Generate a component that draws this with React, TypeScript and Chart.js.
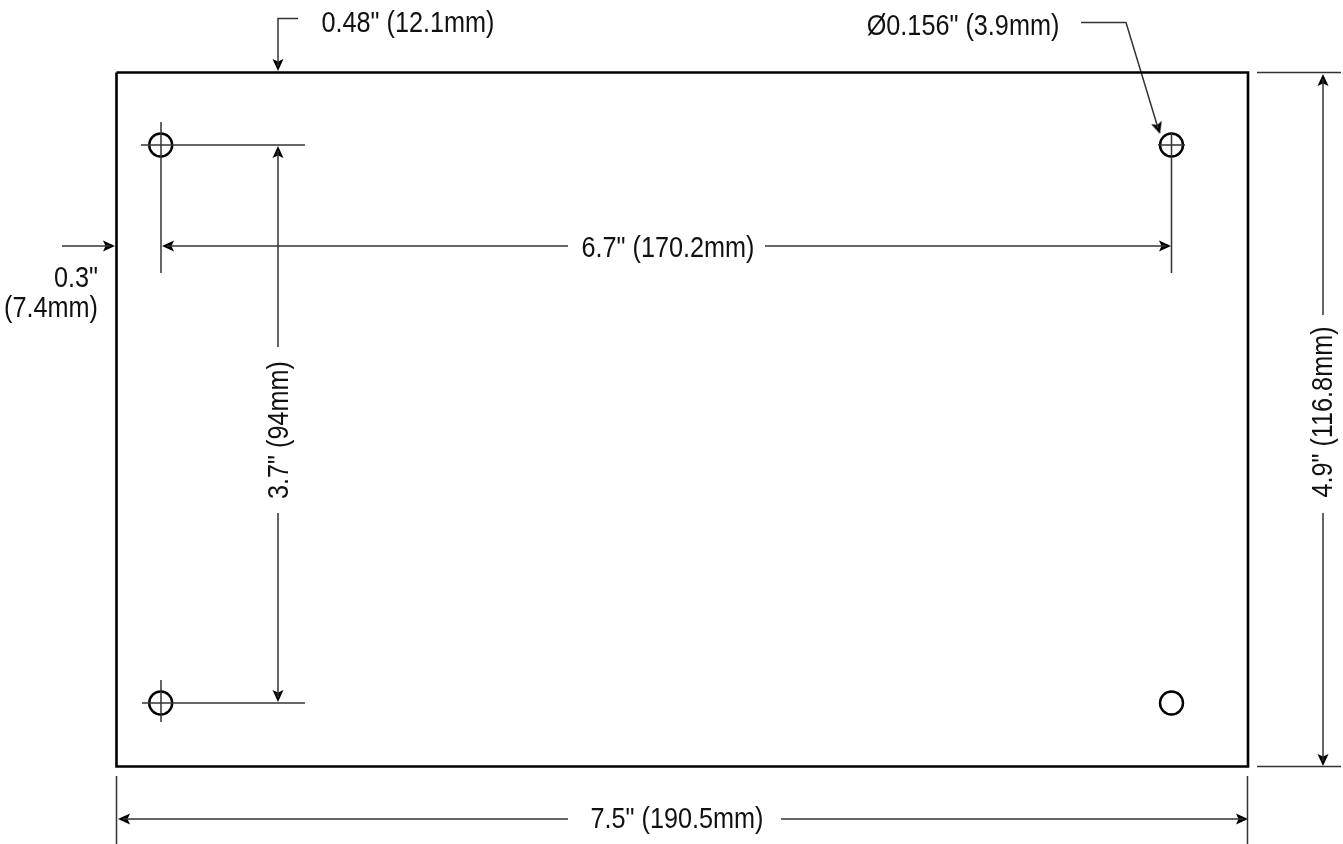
import { useEffect, useRef } from "react";
import { Chart, registerables } from "chart.js";

Chart.register(...registerables);

type P = [number, number];

const sheetWidth = 1343;
const sheetHeight = 844;

const boardOutline: P[] = [[116.5, 72.5], [1248, 72.5], [1248, 766.5], [116.5, 766.5], [116.5, 72.5]];
const holeCenters: P[] = [[160.7, 145], [1171.5, 145], [160.7, 703], [1171.5, 703]];

const leaderLines: P[][] = [
  [[298, 18.5], [278, 18.5], [278, 66]],
  [[1081, 22.5], [1126, 22.5], [1158, 128]],
  [[62, 246], [110, 246]],
];
const extensionLines: P[][] = [
  [[161, 122], [161, 273]],
  [[141, 145], [305, 145]],
  [[1171.5, 132], [1171.5, 273]],
  [[1158, 145], [1185, 145]],
  [[161, 680], [161, 722]],
  [[142, 703], [305, 703]],
  [[1257, 72.5], [1341, 72.5]],
  [[1257, 766.5], [1341, 766.5]],
  [[116.5, 776], [116.5, 844]],
  [[1247.5, 776], [1247.5, 844]],
];
const dimensionLines: P[][] = [
  [[167, 246], [568, 246]],
  [[765, 246], [1166, 246]],
  [[278, 151], [278, 347]],
  [[278, 513], [278, 697]],
  [[1323, 79], [1323, 315]],
  [[1323, 513], [1323, 761]],
  [[123, 819], [568, 819]],
  [[781, 819], [1243, 819]],
];

const arrowTips: P[] = [
  [278, 71], [1160, 134], [115, 246], [162, 246], [1171, 246],
  [278, 146], [278, 702], [1323, 74], [1323, 766], [118, 819], [1248, 819],
];
const arrowAngles: number[] = [90, 73, 0, 180, 0, -90, 90, -90, 90, 180, 0];

const labelTexts: string[] = [
  '0.48" (12.1mm)', 'Ø0.156" (3.9mm)', '0.3"', "(7.4mm)",
  '6.7" (170.2mm)', '3.7" (94mm)', '4.9" (116.8mm)', '7.5" (190.5mm)',
];
const labelAnchors: P[] = [
  [408, 32], [963, 35], [98, 287], [98, 317],
  [668, 257], [288, 430], [1332, 412], [677, 828],
];
const labelAligns: CanvasTextAlign[] = ["center", "center", "right", "right", "center", "center", "center", "center"];
const labelAngles: number[] = [0, 0, 0, 0, 0, -90, -90, 0];

const asPoints = (pts: P[]) => pts.map(([x, y]) => ({ x, y }));

function makeArrowHead(): HTMLCanvasElement {
  const c = document.createElement("canvas");
  c.width = 32;
  c.height = 32;
  const g = c.getContext("2d")!;
  g.fillStyle = "#000";
  g.beginPath();
  g.moveTo(16, 16);
  g.lineTo(4, 10.5);
  g.lineTo(6.5, 16);
  g.lineTo(4, 21.5);
  g.closePath();
  g.fill();
  return c;
}

const labelPlugin = {
  id: "dimensionLabels",
  afterDatasetsDraw(chart: any) {
    const { ctx, scales } = chart;
    ctx.save();
    ctx.fillStyle = "#111";
    ctx.font = '29px "Liberation Sans", sans-serif';
    ctx.textBaseline = "alphabetic";
    labelTexts.forEach((t, i) => {
      const [x, y] = labelAnchors[i];
      ctx.save();
      ctx.translate(scales.x.getPixelForValue(x), scales.y.getPixelForValue(y));
      ctx.rotate((labelAngles[i] * Math.PI) / 180);
      ctx.scale(0.87, 1);
      ctx.textAlign = labelAligns[i];
      ctx.fillText(t, 0, 0);
      ctx.restore();
    });
    ctx.restore();
  },
};

export default function App() {
  const ref = useRef<HTMLCanvasElement>(null);
  useEffect(() => {
    const line = (pts: P[], borderWidth: number, borderColor: string) => ({
      data: asPoints(pts),
      showLine: true,
      borderColor,
      borderWidth,
      pointRadius: 0,
      tension: 0,
      borderJoinStyle: "miter" as const,
    });
    const chart = new Chart(ref.current!, {
      type: "scatter",
      data: {
        datasets: [
          line(boardOutline, 2.6, "#000"),
          ...extensionLines.map((l) => line(l, 1.5, "#333")),
          ...dimensionLines.map((l) => line(l, 1.5, "#333")),
          ...leaderLines.map((l) => line(l, 1.5, "#333")),
          {
            data: asPoints(holeCenters),
            showLine: false,
            pointStyle: "circle",
            pointRadius: 11.5,
            pointBorderWidth: 2.4,
            pointBorderColor: "#000",
            pointBackgroundColor: "transparent",
          },
          {
            data: asPoints(arrowTips),
            showLine: false,
            pointStyle: makeArrowHead(),
            pointRotation: arrowAngles,
            pointRadius: 16,
          },
        ] as any,
      },
      options: {
        animation: false,
        responsive: false,
        layout: { padding: 0, autoPadding: false },
        events: [],
        plugins: { legend: { display: false }, tooltip: { enabled: false }, title: { display: false } },
        scales: {
          x: { type: "linear", display: false, min: 0, max: sheetWidth },
          y: { type: "linear", display: false, min: 0, max: sheetHeight, reverse: true },
        },
      },
      plugins: [labelPlugin],
    });
    return () => chart.destroy();
  }, []);
  return (
    <canvas
      ref={ref}
      width={sheetWidth}
      height={sheetHeight}
      style={{ position: "fixed", left: 0, top: 0, width: sheetWidth, height: sheetHeight, background: "#fff" }}
    />
  );
}
